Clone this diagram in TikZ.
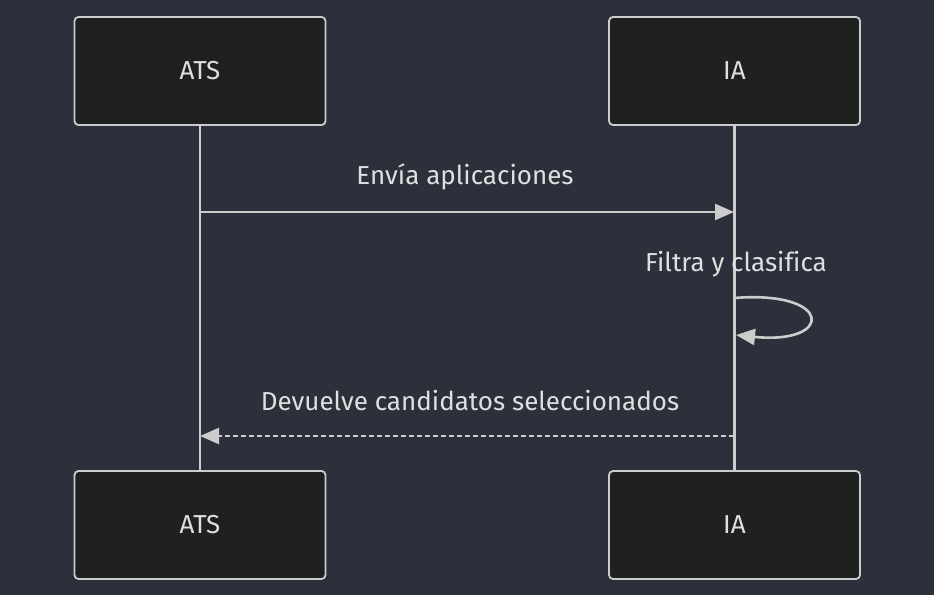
\documentclass[tikz,border=0pt]{standalone}
\usepackage{fontspec}
\setmainfont[Ligatures=NoCommon]{Fira Sans}
\usetikzlibrary{arrows.meta}
\definecolor{bg}{HTML}{2B303B}
\definecolor{boxfill}{HTML}{1F2020}
\definecolor{boxline}{HTML}{CCCCCC}
\definecolor{txt}{HTML}{E0DFDF}
\definecolor{ln}{HTML}{CCCCCC}
\tikzset{
  actor/.style={draw=boxline, fill=boxfill, line width=1.8pt, rounded corners=4pt,
    minimum width=251pt, minimum height=108pt, inner sep=0pt, text=txt, font=\fontsize{26}{30}\selectfont},
  lifeline/.style={draw=ln, line width=2.8pt},
  msg/.style={draw=ln, line width=2.6pt, -{Triangle[length=19pt,width=16pt]}},
  msglabel/.style={text=txt, font=\fontsize{26}{30}\selectfont, inner sep=0pt},
}
\begin{document}
\begin{tikzpicture}[x=1pt,y=-1pt]
\fill[bg] (0,0) rectangle (934,595);
\useasboundingbox (0,0) rectangle (934,595);
\node[actor] (a1) at (200,71) {ATS};
\node[actor] (i1) at (734.5,71) {IA};
\node[actor] (a2) at (200,525) {ATS};
\node[actor] (i2) at (734.5,525) {IA};
\draw[lifeline] (a1.south) -- (a2.north);
\draw[lifeline] (i1.south) -- (i2.north);
\coordinate (m1s) at (200,212);
\coordinate (m1e) at (734,212);
\coordinate (m2s) at (734,298);
\coordinate (m2e) at (736,335);
\coordinate (m3s) at (734,436);
\coordinate (m3e) at (200,436);
\draw[msg] (m1s) -- (m1e);
\node[msglabel] (l1) at (465,177) {Envía aplicaciones};
\draw[msg] (m2s) .. controls (834,290) and (834,345) .. (m2e);
\node[msglabel] (l2) at (736,264) {Filtra y clasifica};
\draw[msg, dash pattern=on 5pt off 3pt] (m3s) -- (m3e);
\node[msglabel] (l3) at (470,401) {Devuelve candidatos seleccionados};
\end{tikzpicture}
\end{document}
